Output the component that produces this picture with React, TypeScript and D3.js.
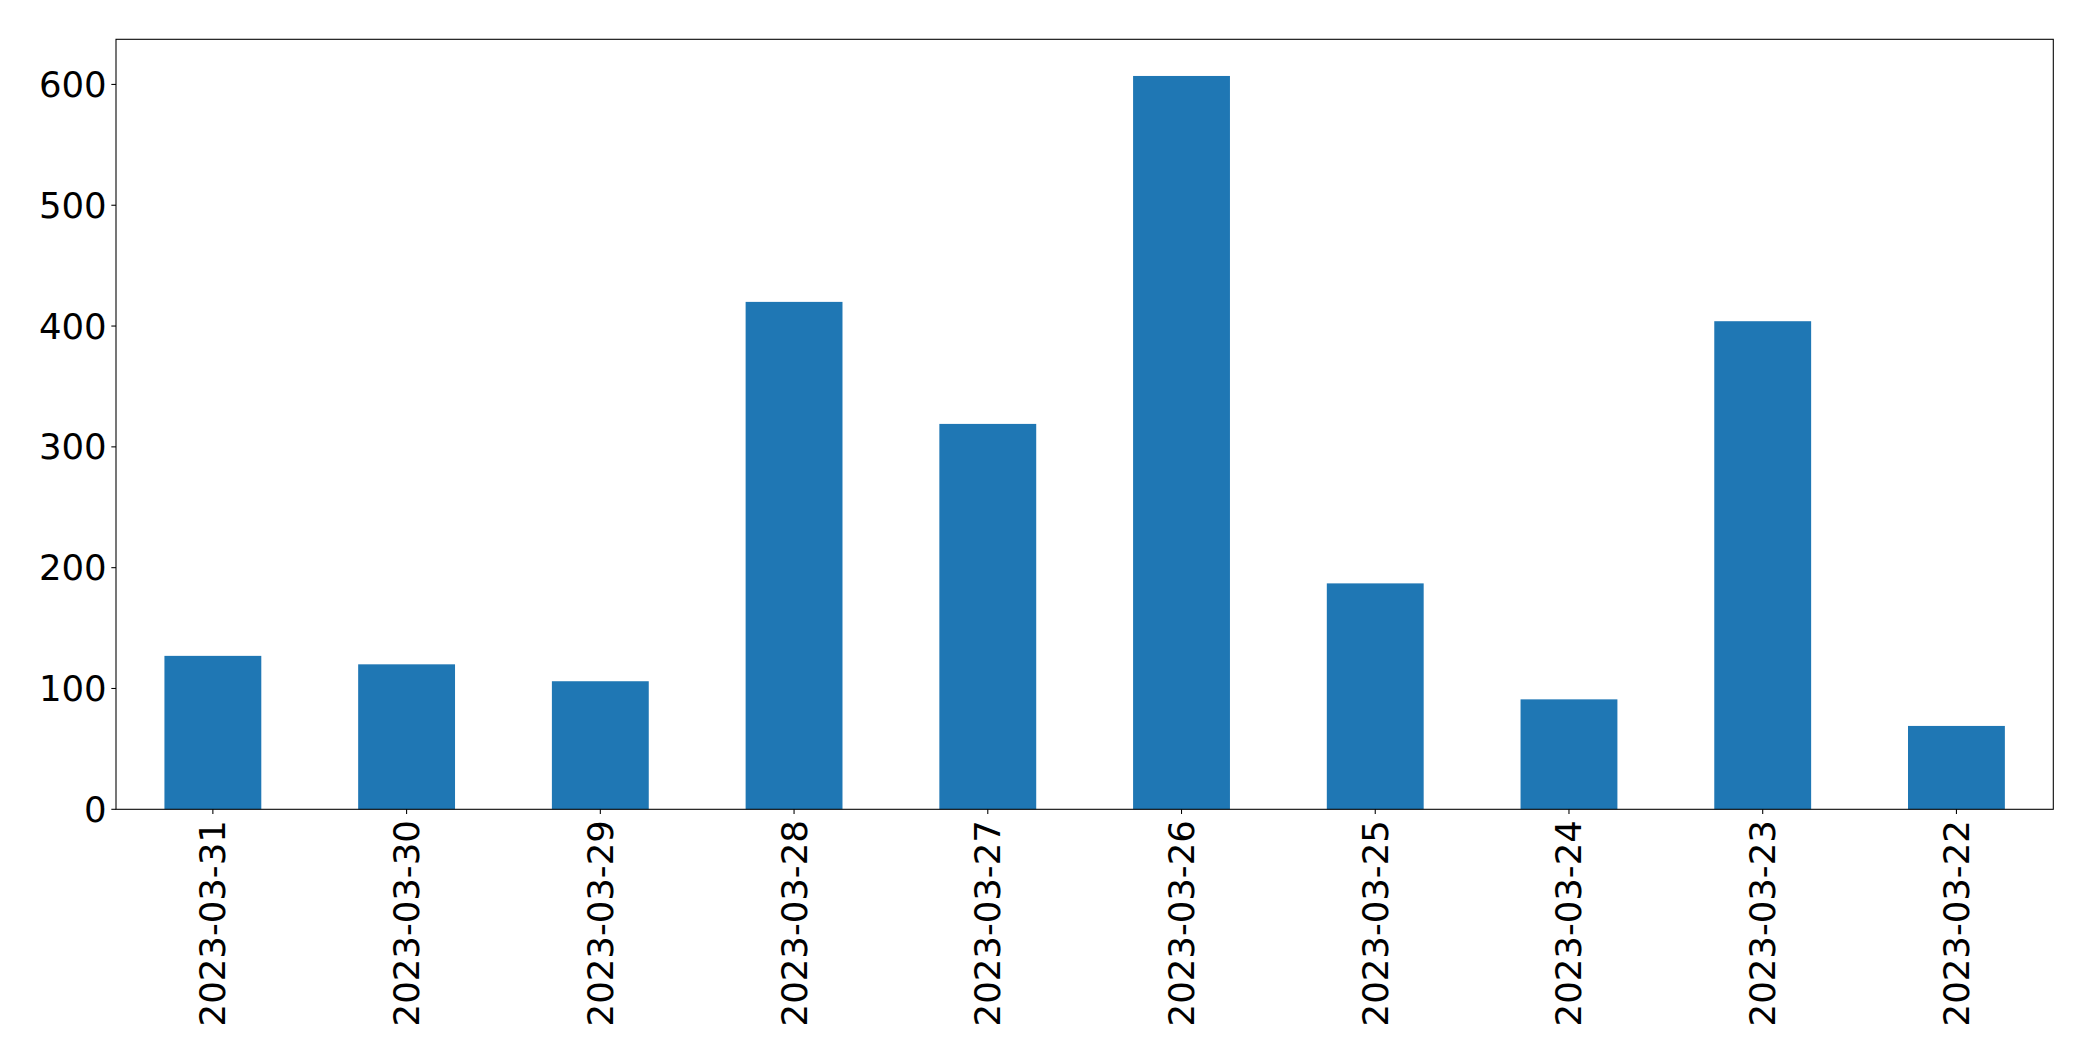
import React from "react";
import * as d3 from "d3";

const categories = ["2023-03-31","2023-03-30","2023-03-29","2023-03-28","2023-03-27","2023-03-26","2023-03-25","2023-03-24","2023-03-23","2023-03-22"];
const values = [127, 120, 106, 420, 319, 607, 187, 91, 404, 69];
const yTicks = [0, 100, 200, 300, 400, 500, 600];

const W = 2093, H = 1061;
const M = { left: 116, right: 2053.3, top: 39.3, bottom: 809.3 };
const FONT = "DejaVu Sans, sans-serif";
const FS = 35.5;
const TICK = 4.67;
const PAD = 4.67;
const LW = 1.07;

export default function App() {
  const x = d3.scaleBand<string>().domain(categories).range([M.left, M.right]).paddingInner(0.5).paddingOuter(0.25);
  const yMax = d3.max(values)! * 1.05;
  const y = d3.scaleLinear().domain([0, yMax]).range([M.bottom, M.top]);
  return (
    <svg width={W} height={H} style={{ position: "absolute", left: 0, top: 0, background: "#fff" }}>
      <rect x={0} y={0} width={W} height={H} fill="#fff" />
      {values.map((v, i) => (
        <rect key={i} x={x(categories[i])!} y={y(v)} width={x.bandwidth()} height={y(0) - y(v)} fill="#1f77b4" />
      ))}
      <rect x={M.left} y={M.top} width={M.right - M.left} height={M.bottom - M.top} fill="none" stroke="#000" strokeWidth={LW} />
      {yTicks.map((t) => (
        <g key={t}>
          <line x1={M.left - TICK} x2={M.left} y1={y(t)} y2={y(t)} stroke="#000" strokeWidth={LW} />
          <text x={M.left - TICK - PAD} y={y(t)} textAnchor="end" dominantBaseline="central" fontFamily={FONT} fontSize={FS} fill="#000">{t}</text>
        </g>
      ))}
      {categories.map((c) => {
        const cx = x(c)! + x.bandwidth() / 2;
        const ty = M.bottom + TICK + PAD + 1.5;
        return (
          <g key={c}>
            <line x1={cx} x2={cx} y1={M.bottom} y2={M.bottom + TICK} stroke="#000" strokeWidth={LW} />
            <text transform={`translate(${cx},${ty}) rotate(-90)`} textAnchor="end" dominantBaseline="central" fontFamily={FONT} fontSize={FS} fill="#000">{c}</text>
          </g>
        );
      })}
    </svg>
  );
}
